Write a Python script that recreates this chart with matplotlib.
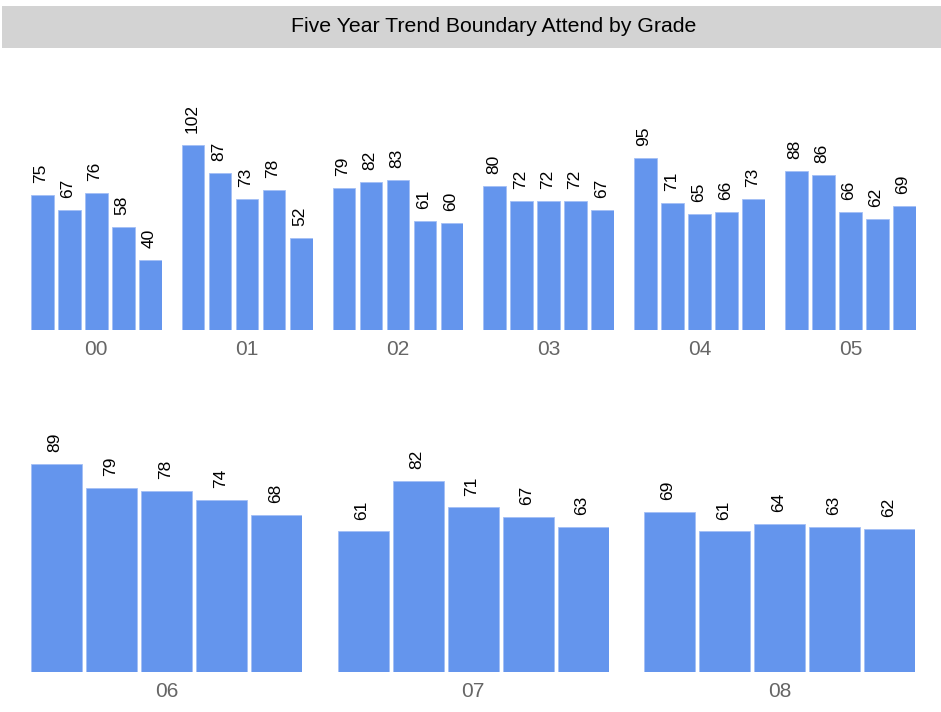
import matplotlib.pyplot as plt
from matplotlib.patches import Rectangle

plt.rcParams['font.family'] = ['Liberation Sans', 'DejaVu Sans']

# data
title = "Five Year Trend Boundary Attend by Grade"
grades_top = ["00", "01", "02", "03", "04", "05"]
grades_bottom = ["06", "07", "08"]
values = {
    "00": [75, 67, 76, 58, 40],
    "01": [102, 87, 73, 78, 52],
    "02": [79, 82, 83, 61, 60],
    "03": [80, 72, 72, 72, 67],
    "04": [95, 71, 65, 66, 73],
    "05": [88, 86, 66, 62, 69],
    "06": [89, 79, 78, 74, 68],
    "07": [61, 82, 71, 67, 63],
    "08": [69, 61, 64, 63, 62],
}

W, H = 941, 712
bar_color = "#6495ED"
edge_color = "#a3bff5"

fig = plt.figure(figsize=(W / 100, H / 100), dpi=100)

# grey title band
fig.patches.append(Rectangle((2 / W, 1 - 48 / H), 939 / W, 42 / H,
                             transform=fig.transFigure, facecolor="#d3d3d3",
                             edgecolor="none", zorder=0))
fig.text(493.5 / W, 1 - 26 / H, title, ha="center", va="center",
         fontsize=15.3, color="black")


def draw_panel(rect, grade, width_ratio, ylim):
    ax = fig.add_axes(rect)
    vals = values[grade]
    xs = range(len(vals))
    ax.bar(xs, vals, width=width_ratio, color=bar_color,
           edgecolor=edge_color, linewidth=0.6)
    half = width_ratio / 2
    ax.set_xlim(-half, len(vals) - 1 + half)
    ax.set_ylim(*ylim)
    for x, v in zip(xs, vals):
        ax.annotate(str(v), xy=(x, v), xytext=(-1, 8.5),
                    textcoords="offset points", rotation=90,
                    ha="center", va="bottom", fontsize=12.5,
                    annotation_clip=False)
    ax.annotate(grade, xy=(0.5, 0), xycoords="axes fraction",
                xytext=(0, -14), textcoords="offset points",
                ha="center", va="center", fontsize=15, color="#666666")
    ax.set_xticks([])
    ax.set_yticks([])
    for s in ax.spines.values():
        s.set_visible(False)
    ax.patch.set_visible(False)
    return ax


# top row
top_base, top_top = 330, 80
for i, g in enumerate(grades_top):
    left = 31 + i * 150.8
    rect = [left / W, 1 - top_base / H, 130.7 / W, (top_base - top_top) / H]
    draw_panel(rect, g, 0.837, (2.3, 2.3 + (top_base - top_top) / 1.855))

# bottom row
bot_base, bot_top = 672.3, 420
for i, g in enumerate(grades_bottom):
    left = 31 + i * 306.5
    rect = [left / W, 1 - bot_base / H, 271.4 / W, (bot_base - bot_top) / H]
    draw_panel(rect, g, 0.926, (2.3, 2.3 + (bot_base - bot_top) / 2.4))

fig.savefig("out.png", dpi=100, facecolor="white")
